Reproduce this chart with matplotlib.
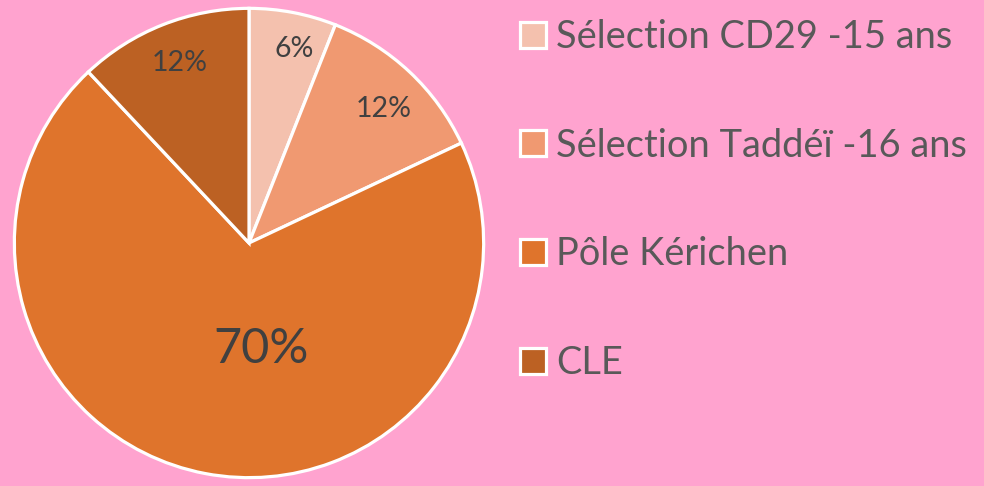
import matplotlib.pyplot as plt

# data
categories = ["Sélection CD29 -15 ans", "Sélection Taddéï -16 ans", "Pôle Kérichen", "CLE"]
values = [6, 12, 70, 12]
pct_labels = ["6%", "12%", "70%", "12%"]
colors = ["#F4C1AE", "#F09971", "#DF742C", "#BC6123"]

bg = "#FFA3CF"

fig = plt.figure(figsize=(9.84, 4.86), dpi=100, facecolor=bg)
ax = fig.add_axes([12 / 984, 6 / 486, 474 / 984, 474 / 486])
ax.set_facecolor(bg)

wedges, texts = ax.pie(values, colors=colors, startangle=90, counterclock=False,
                       labels=pct_labels, labeldistance=0.84,
                       wedgeprops=dict(edgecolor="white", linewidth=2.3),
                       textprops=dict(family="Lato", color="#404040", fontsize=20.5,
                                      ha="center", va="center"))
# nudge labels to where excel put them
x, y = texts[0].get_position()
texts[0].set_position((x + 0.035, y))
x, y = texts[1].get_position()
texts[1].set_position((x, y - 0.04))
x, y = texts[3].get_position()
texts[3].set_position((x + 0.015, y - 0.015))
# the big slice label sits lower, with a bigger font
texts[2].set_position((0.05, -0.45))
texts[2].set_fontsize(35)

ax.set_xlim(-1.01, 1.01)
ax.set_ylim(-1.01, 1.01)
ax.set_aspect("equal")
ax.axis("off")

leg = fig.legend(wedges, categories, loc="upper left", bbox_to_anchor=(520 / 984, 1 - 19 / 486),
                 frameon=False, prop=dict(family="Lato", size=27.4),
                 handlelength=0.68, handleheight=0.68, handletextpad=0.26,
                 labelspacing=1.91, borderaxespad=0, borderpad=0)
for t in leg.get_texts():
    t.set_color("#595959")

fig.savefig("out.png", dpi=100, facecolor=bg)
